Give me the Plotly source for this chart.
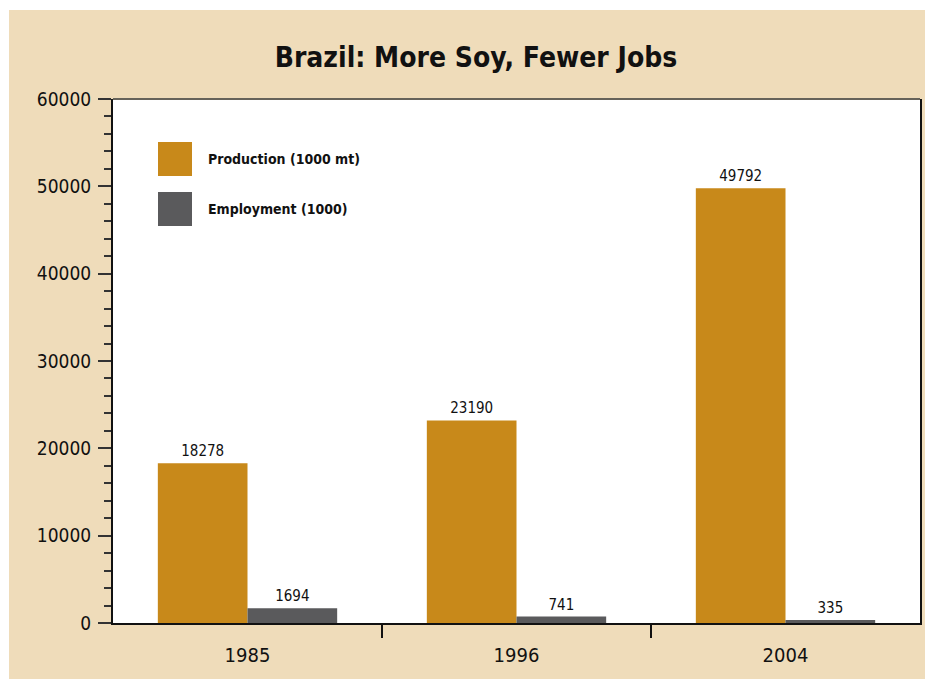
import plotly.graph_objects as go

years = ["1985", "1996", "2004"]
production = [18278, 23190, 49792]
employment = [1694, 741, 335]
series_names = ["Production (1000 mt)", "Employment (1000)"]
series_colors = ["#C8891A", "#5A5A5C"]
title_text = "Brazil: More Soy, Fewer Jobs"

OFF = 8  # page body margin
W, H = 933 - OFF, 679 - OFF
L, R, T, B = 113 - OFF, 920 - OFF, 99 - OFF, 623 - OFF
FONT = "DejaVu Sans Condensed, Roboto, sans-serif"

def px(x):
    return (x - OFF - L) / (R - L)

def py(y):
    return (B - (y - OFF)) / (B - T)

fig = go.Figure()
for name, vals, col in zip(series_names, [production, employment], series_colors):
    fig.add_trace(go.Bar(
        x=years, y=vals, name=name, marker=dict(color=col, line=dict(width=0)),
        text=[str(v) for v in vals], textposition="outside",
        textfont=dict(family=FONT, size=15, color="#111111"),
        cliponaxis=False,
    ))
# empty helper trace so the boundary-tick axis is drawn
fig.add_trace(go.Scatter(x=[None], y=[None], xaxis="x2", yaxis="y", showlegend=False,
                         hoverinfo="skip", mode="markers"))

shapes = [
    dict(type="rect", xref="paper", yref="paper", x0=px(9), x1=px(960), y0=py(700), y1=py(10),
         fillcolor="#EFDCBA", line=dict(width=0), layer="below"),
    dict(type="rect", xref="paper", yref="paper", x0=0, x1=1, y0=0, y1=1,
         fillcolor="white", line=dict(width=0), layer="below"),
    dict(type="line", xref="paper", yref="paper", x0=0, x1=1, y0=1, y1=1,
         line=dict(color="#66635A", width=2)),
]
annotations = []
for i, (name, col) in enumerate(zip(series_names, series_colors)):
    top = 142 + i * 50
    shapes.append(dict(type="rect", xref="paper", yref="paper",
                       x0=px(158), x1=px(192), y0=py(top + 34), y1=py(top),
                       fillcolor=col, line=dict(width=0)))
    annotations.append(dict(xref="paper", yref="paper", x=px(206), y=py(top + 17),
                            text="<b>%s</b>" % name, showarrow=False, xanchor="left", yanchor="middle",
                            font=dict(family=FONT, size=14, color="#111111")))

fig.update_layout(
    width=W, height=H,
    margin=dict(l=L, r=W - R, t=T, b=H - B),
    paper_bgcolor="white", plot_bgcolor="rgba(0,0,0,0)",
    barmode="group", bargap=1/3, bargroupgap=0,
    showlegend=False,
    title=dict(text="<b>%s</b>" % title_text, x=(476 - OFF) / W, xanchor="center", xref="container",
               y=1 - (57 - OFF) / H, yanchor="middle", yref="container",
               font=dict(family=FONT, size=28, color="#111111")),
    shapes=shapes, annotations=annotations,
    xaxis=dict(
        type="category", showgrid=False, showline=True, linecolor="#111111", linewidth=2,
        ticks="", ticklabelstandoff=13,
        tickfont=dict(family=FONT, size=20, color="#111111"),
    ),
    xaxis2=dict(
        overlaying="x", anchor="y", side="bottom", range=[-0.5, 2.5],
        tickvals=[0.5, 1.5], ticktext=["", ""], ticks="outside", ticklen=14,
        tickcolor="#111111", tickwidth=1.5, showgrid=False, showline=False, zeroline=False,
    ),
    yaxis=dict(
        range=[0, 60000], dtick=10000, tickformat="d", showgrid=False, zeroline=False,
        showline=True, linecolor="#111111", linewidth=2, mirror=True,
        ticks="outside", ticklen=13, tickcolor="#333333", tickwidth=1.5,
        ticklabelstandoff=3,
        tickfont=dict(family=FONT, size=19, color="#111111"),
        minor=dict(dtick=2000, ticks="outside", ticklen=7, tickcolor="#333333", tickwidth=1.5, showgrid=False),
    ),
)

fig.write_html("out.html")
